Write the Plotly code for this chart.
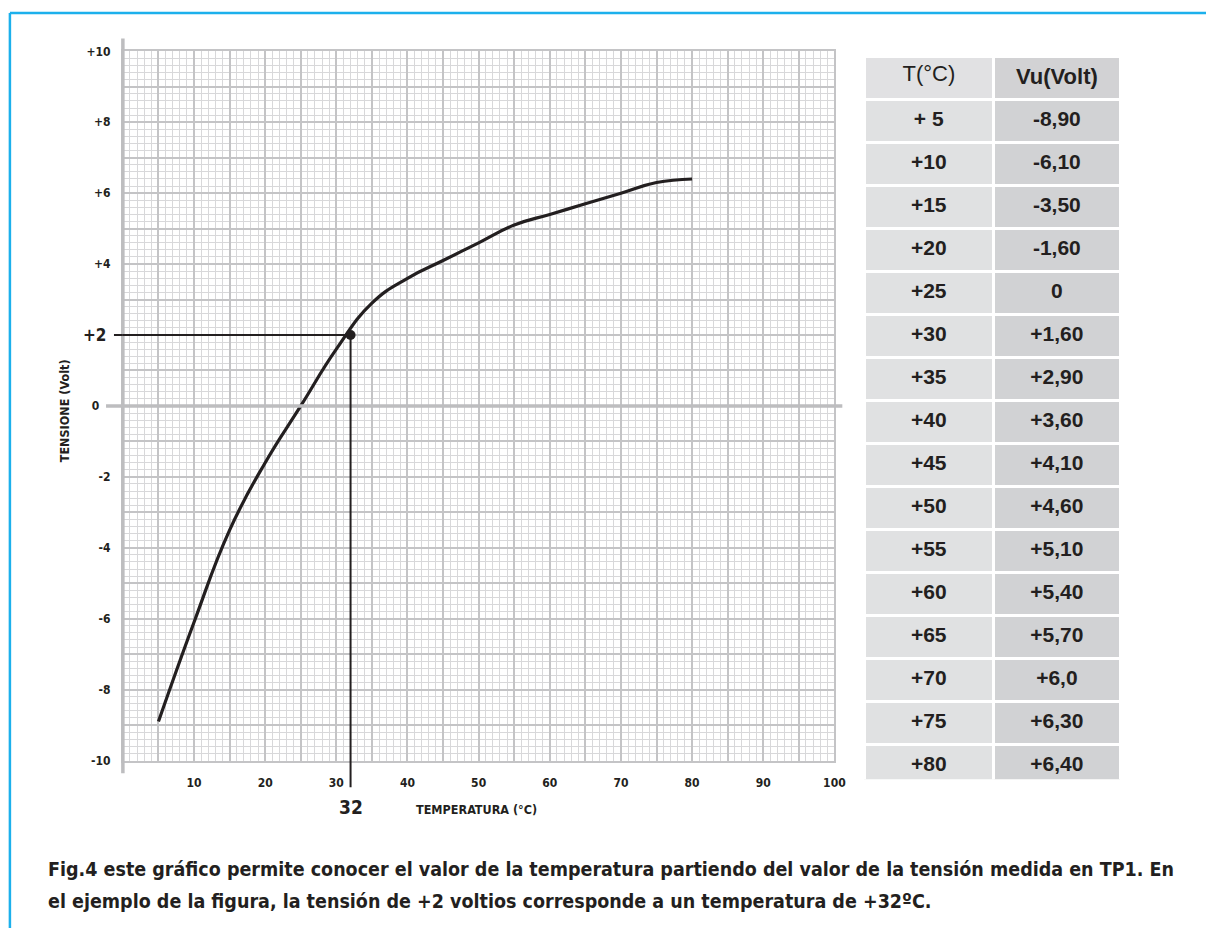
import plotly.graph_objects as go

# --- data -----------------------------------------------------------------
temps = [5, 10, 15, 20, 25, 30, 35, 40, 45, 50, 55, 60, 65, 70, 75, 80]
volts = [-8.90, -6.10, -3.50, -1.60, 0.0, 1.60, 2.90, 3.60, 4.10, 4.60,
         5.10, 5.40, 5.70, 6.0, 6.30, 6.40]
temp_labels = ["+ 5", "+10", "+15", "+20", "+25", "+30", "+35", "+40",
               "+45", "+50", "+55", "+60", "+65", "+70", "+75", "+80"]
volt_labels = ["-8,90", "-6,10", "-3,50", "-1,60", "0", "+1,60", "+2,90",
               "+3,60", "+4,10", "+4,60", "+5,10", "+5,40", "+5,70",
               "+6,0", "+6,30", "+6,40"]
table_header = ["T(°C)", "Vu(Volt)"]

example_temp = 32
example_volt = 2

y_tick_vals = list(range(-10, 11))
y_tick_text = {10: "+10", 8: "+8", 6: "+6", 4: "+4",
               0: "0\u00a0\u00a0\u00a0", -2: "-2", -4: "-4", -6: "-6",
               -8: "-8", -10: "-10"}
x_tick_vals = list(range(0, 101, 5))
x_tick_text = {10: "10", 20: "20", 30: "30", 40: "40", 50: "50",
               60: "60", 70: "70", 80: "80", 90: "90", 100: "100"}

x_title = "TEMPERATURA (°C)"
y_title = "TENSIONE (Volt)"
caption_1 = ("Fig.4 este gráfico permite conocer el valor de la temperatura "
             "partiendo del valor de la tensión medida en TP1. En")
caption_2 = ("el ejemplo de la figura, la tensión de +2 voltios corresponde "
             "a un temperatura de +32ºC.")

# --- styling --------------------------------------------------------------
W, H = 1217, 935
NARROW = "Liberation Sans Narrow, DejaVu Sans Condensed, Arial Narrow, sans-serif"
SANS = "Liberation Sans, Arial, Helvetica, sans-serif"
INK = "#231f20"
MAJOR = "#c4c4c6"
MINOR = "#d8d8da"
AXIS = "#bdbdbf"
FRAME = "#1cb0ec"

X_RANGE = [0, 100]
Y_RANGE = [-10, 10]


def px_x(p):
    return p / W


def px_y(p):
    return 1 - p / H


plot_left, plot_right, plot_top, plot_bottom = 124, 842, 45, 765
plot_w = plot_right - plot_left
plot_h = plot_bottom - plot_top

fig = go.Figure()

# calibration curve
fig.add_trace(go.Scatter(
    x=temps, y=volts, mode="lines",
    line=dict(color=INK, width=3.2, shape="spline", smoothing=1.3),
    hoverinfo="skip", showlegend=False,
))

# worked example point
fig.add_trace(go.Scatter(
    x=[example_temp], y=[example_volt], mode="markers",
    marker=dict(color=INK, size=10), cliponaxis=False,
    hoverinfo="skip", showlegend=False,
))

# value table
fig.add_trace(go.Table(
    domain=dict(x=[px_x(872), px_x(1131)], y=[px_y(784), px_y(50)]),
    columnwidth=[130, 127],
    header=dict(
        values=[table_header[0], "<b>" + table_header[1] + "</b>"],
        fill_color=["#e1e1e3", "#d2d2d4"],
        line=dict(color="white", width=3),
        font=dict(family=SANS, size=22, color=INK),
        align="center", height=43,
    ),
    cells=dict(
        values=[["<b>" + t + "</b>" for t in temp_labels],
                ["<b>" + v + "</b>" for v in volt_labels]],
        fill_color=["#e0e1e2", "#d1d2d4"],
        line=dict(color="white", width=3),
        font=dict(family=SANS, size=21, color=INK),
        align="center", height=43,
    ),
))

# fraction of the plot height at which the example voltage sits
example_frac = (example_volt - Y_RANGE[0]) / (Y_RANGE[1] - Y_RANGE[0])

shapes = [
    # page frame (top and left edges)
    dict(type="line", xref="paper", yref="paper", x0=px_x(10), x1=1.0,
         y0=px_y(6), y1=px_y(6), line=dict(color=FRAME, width=2.5)),
    dict(type="line", xref="paper", yref="paper", x0=px_x(10), x1=px_x(10),
         y0=px_y(6), y1=0.0, line=dict(color=FRAME, width=2.5)),
    # extended vertical axis
    dict(type="line", xref="x domain", yref="y domain", x0=0, x1=0,
         y0=-13 / plot_h, y1=1 + 13 / plot_h,
         line=dict(color=AXIS, width=3.5), layer="above"),
    # extended zero line
    dict(type="line", xref="x domain", yref="y", x0=-17 / plot_w,
         x1=1 + 8 / plot_w, y0=0, y1=0, line=dict(color=AXIS, width=3.5),
         layer="above"),
    # guide lines through the example point
    dict(type="line", xref="x domain", yref="y", x0=-9 / plot_w, x1=0,
         y0=example_volt, y1=example_volt, line=dict(color=INK, width=2),
         layer="above"),
    dict(type="line", xref="x", yref="y", x0=X_RANGE[0], x1=example_temp,
         y0=example_volt, y1=example_volt, line=dict(color=INK, width=2),
         layer="above"),
    dict(type="line", xref="x", yref="y domain", x0=example_temp,
         x1=example_temp, y0=-27 / plot_h, y1=example_frac,
         line=dict(color=INK, width=2), layer="above"),
]

annotations = [
    dict(text="+" + str(example_volt), xref="paper", yref="y",
         x=px_x(109), y=example_volt, xanchor="right", yanchor="middle",
         showarrow=False, font=dict(family=NARROW, size=17, color=INK,
                                    weight="bold")),
    dict(text=str(example_temp), xref="x", yref="paper", x=example_temp,
         y=px_y(812), xanchor="center", yanchor="middle", showarrow=False,
         font=dict(family=NARROW, size=19, color=INK, weight="bold")),
    dict(text=x_title, xref="paper", yref="paper", x=px_x(481), y=px_y(815),
         xanchor="center", yanchor="middle", showarrow=False,
         font=dict(family=NARROW, size=12.5, color=INK, weight="bold")),
    dict(text=y_title, xref="paper", yref="paper", x=px_x(65), y=px_y(410),
         xanchor="center", yanchor="middle", textangle=-90, showarrow=False,
         font=dict(family=NARROW, size=12.5, color=INK, weight="bold")),
    dict(text=caption_1, xref="paper", yref="paper", x=px_x(46), y=px_y(876),
         xanchor="left", yanchor="middle", showarrow=False,
         font=dict(family=NARROW, size=19.5, color=INK, weight="bold")),
    dict(text=caption_2, xref="paper", yref="paper", x=px_x(46), y=px_y(908),
         xanchor="left", yanchor="middle", showarrow=False,
         font=dict(family=NARROW, size=19.5, color=INK, weight="bold")),
]

fig.update_layout(
    width=W, height=H,
    margin=dict(l=0, r=0, t=0, b=0),
    paper_bgcolor="white", plot_bgcolor="white",
    showlegend=False,
    shapes=shapes, annotations=annotations,
    xaxis=dict(
        domain=[px_x(plot_left), px_x(plot_right)], range=X_RANGE,
        tickmode="array", tickvals=x_tick_vals,
        ticktext=[x_tick_text.get(v, "") for v in x_tick_vals],
        showgrid=True, gridcolor=MAJOR, gridwidth=2,
        minor=dict(tickmode="linear", tick0=0, dtick=1, showgrid=True,
                   gridcolor=MINOR, gridwidth=1),
        zeroline=False, showline=True, mirror=True, linecolor=MAJOR,
        linewidth=2, ticks="", ticklabelstandoff=10,
        tickfont=dict(family=NARROW, size=12, color=INK, weight="bold"),
        fixedrange=True,
    ),
    yaxis=dict(
        domain=[px_y(plot_bottom), px_y(plot_top)], range=Y_RANGE,
        tickmode="array", tickvals=y_tick_vals,
        ticktext=[y_tick_text.get(v, "") for v in y_tick_vals],
        showgrid=True, gridcolor=MAJOR, gridwidth=2,
        minor=dict(tickmode="linear", tick0=0, dtick=0.2, showgrid=True,
                   gridcolor=MINOR, gridwidth=1),
        zeroline=False, showline=True, mirror=True, linecolor=MAJOR,
        linewidth=2, ticks="", ticklabelstandoff=8,
        tickfont=dict(family=NARROW, size=12, color=INK, weight="bold"),
        fixedrange=True,
    ),
)

fig.write_html(
    "out.html",
    post_script="document.body.style.margin='0';"
                "document.body.style.overflow='hidden';",
)
